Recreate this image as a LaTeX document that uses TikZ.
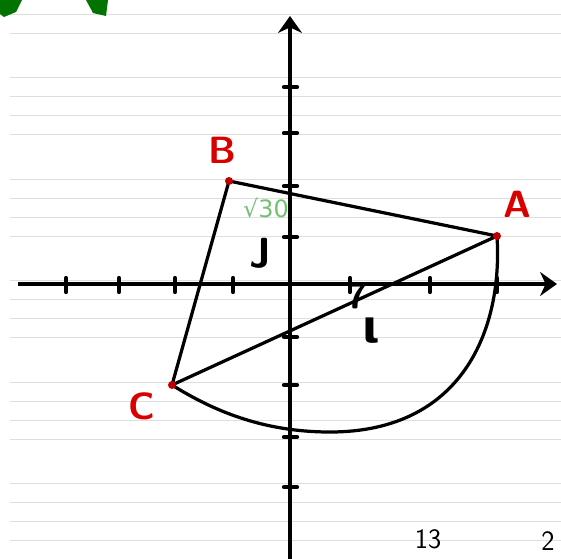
\documentclass[tikz,border=0pt]{standalone}
\usepackage{fontspec}
\newfontfamily\djv{DejaVu Sans}
\usetikzlibrary{arrows.meta}
\tikzset{
  ruled/.style={black!13, line width=1.3pt},
  axis/.style={line width=5.5pt, -{Stealth[length=24pt,width=34pt]}},
  tickmark/.style={line width=6pt, line cap=round},
  side/.style={line width=4.6pt, line cap=round, line join=round},
  dot/.style={red!75!black},
  ptlabel/.style={text=red!85!black, font=\fontsize{54}{54}\selectfont\sffamily\bfseries},
  hand/.style={text=black, font=\fontsize{60}{60}\selectfont\sffamily\bfseries},
}
\begin{document}
\begin{tikzpicture}[x=0.5mm,y=-0.5mm]
\useasboundingbox (0,0) rectangle (561,558);
\clip (0,0) rectangle (561,558);
% ruled paper
\foreach \g in {-24,77.5,179,280.5,382,483.5}
  \foreach \k in {0,1,2,3}
    \draw[ruled] (10,\g+19*\k) -- (561,\g+19*\k);
% green stickers, cut at the top
\fill[green!45!black] (0,0) -- (22,0) -- (16,12) -- (4,17) -- (0,14) -- cycle;
\fill[green!45!black] (86,0) -- (108,0) -- (106,16) -- (93,13) -- cycle;
% axes
\coordinate (xs) at (18,284);
\coordinate (xe) at (557,284);
\coordinate (ys) at (290,560);
\coordinate (ye) at (290,16);
\draw[axis] (xs) -- (xe);
\draw[axis] (ys) -- (ye);
% ticks
\foreach \x in {66,119,175,233,350,430,497}
  \draw[tickmark] (\x,278) -- (\x,292);
\foreach \y in {87,133,186,237,337,385,437,487}
  \draw[tickmark] (284,\y) -- (297,\y);
% points
\coordinate (A) at (497,236);
\coordinate (B) at (229,181);
\coordinate (C) at (172,385);
% triangle and arc
\draw[side] (A) -- (B) -- (C) -- cycle;
\draw[side] (A) .. controls (503,330) and (462,432) .. (330,432)
  .. controls (262,432) and (212,410) .. (C);
\foreach \p in {A,B,C}
  \fill[dot] (\p) circle (4);
% point labels
\node[ptlabel] (lA) at (517,204) {A};
\node[ptlabel] (lB) at (222,150) {B};
\node[ptlabel] (lC) at (142,406) {C};
% handwritten notes
\node[text=green!55!black!55, font=\fontsize{34}{34}\selectfont\djv] (rt) at (266,208) {√30};
\node[hand] (nJ) at (260,253) {J};
\node[hand, inner sep=0pt, font=\fontsize{52}{52}\selectfont\sffamily\bfseries] (n7) at (358,296) {7};
\node[hand, inner sep=0pt, font=\fontsize{64}{64}\selectfont\djv\bfseries] (nI) at (371,331) {ι};
\node[hand, font=\fontsize{40}{40}\selectfont\sffamily] (n13) at (428,539) {13};
\node[hand, font=\fontsize{40}{40}\selectfont\sffamily] (n2) at (548,541) {2};
\end{tikzpicture}
\end{document}
